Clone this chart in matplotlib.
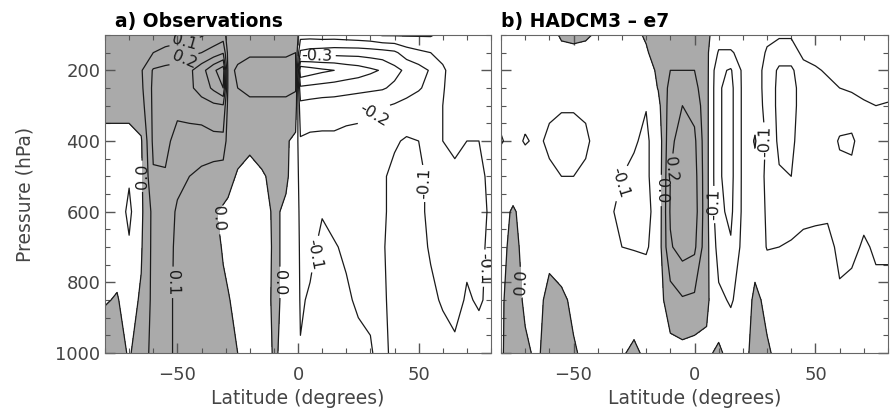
import matplotlib.pyplot as plt
import numpy as np
from matplotlib.ticker import MultipleLocator

pressure = [100, 150, 200, 250, 300, 400, 500, 600, 700, 850, 1000]

# a) observations: one row per latitude, values at each pressure level
lat_obs = [-80, -75, -70, -65, -60, -55, -50, -45, -40, -35, -31, -29, -25,
           -20, -15, -10, -5, -1, 1, 5, 10, 15, 20, 25, 30, 35, 40, 45, 50,
           55, 60, 65, 70, 75, 80]
obs = [
    [0.05, 0.05, 0.05, 0.04, 0.02, -0.02, -0.03, -0.03, -0.02, -0.005, 0.04],
    [0.06, 0.06, 0.06, 0.05, 0.03, -0.03, -0.05, -0.05, -0.03, 0.005, 0.04],
    [0.06, 0.07, 0.07, 0.06, 0.02, -0.02, -0.09, -0.12, -0.09, -0.03, -0.01],
    [0.07, 0.08, 0.09, 0.08, 0.06, -0.01, -0.02, -0.02, -0.01, 0.01, 0.05],
    [0.07, 0.10, 0.21, 0.22, 0.22, 0.22, 0.19, 0.13, 0.13, 0.13, 0.13],
    [0.06, 0.12, 0.23, 0.24, 0.24, 0.23, 0.19, 0.14, 0.14, 0.13, 0.13],
    [0.06, 0.14, 0.24, 0.25, 0.23, 0.16, 0.12, 0.09, 0.08, 0.08, 0.08],
    [0.06, 0.18, 0.28, 0.28, 0.24, 0.16, 0.10, 0.07, 0.06, 0.06, 0.06],
    [0.09, 0.20, 0.36, 0.34, 0.26, 0.15, 0.08, 0.05, 0.05, 0.05, 0.05],
    [0.13, 0.24, 0.48, 0.42, 0.28, 0.17, 0.05, 0.005, 0.02, 0.04, 0.05],
    [0.15, 0.29, 0.56, 0.50, 0.29, 0.17, 0.04, -0.01, -0.005, 0.01, 0.03],
    [0.05, 0.07, 0.08, 0.08, 0.07, 0.05, 0.03, -0.02, -0.02, 0.005, 0.02],
    [0.05, 0.08, 0.11, 0.10, 0.07, 0.04, -0.01, -0.03, -0.03, -0.02, 0.0],
    [0.06, 0.09, 0.13, 0.12, 0.08, 0.02, -0.03, -0.05, -0.05, -0.04, -0.03],
    [0.06, 0.09, 0.13, 0.12, 0.08, 0.04, -0.01, -0.03, -0.04, -0.03, -0.03],
    [0.06, 0.09, 0.13, 0.12, 0.08, 0.05, 0.02, 0.01, 0.01, 0.01, 0.005],
    [0.06, 0.09, 0.13, 0.12, 0.08, 0.01, 0.01, -0.01, -0.01, -0.01, -0.01],
    [0.07, 0.10, 0.12, 0.11, 0.06, -0.02, -0.03, -0.03, -0.03, -0.03, -0.02],
    [-0.06, -0.22, -0.58, -0.38, -0.27, -0.19, -0.15, -0.13, -0.12, -0.11, -0.095],
    [-0.06, -0.24, -0.55, -0.37, -0.26, -0.18, -0.15, -0.13, -0.12, -0.09, -0.06],
    [-0.05, -0.25, -0.52, -0.36, -0.25, -0.18, -0.14, -0.105, -0.08, -0.06, -0.05],
    [-0.05, -0.26, -0.50, -0.35, -0.25, -0.18, -0.14, -0.12, -0.095, -0.07, -0.06],
    [-0.04, -0.26, -0.47, -0.34, -0.24, -0.17, -0.14, -0.12, -0.11, -0.09, -0.07],
    [-0.03, -0.26, -0.45, -0.33, -0.23, -0.17, -0.13, -0.12, -0.11, -0.11, -0.08],
    [-0.02, -0.25, -0.42, -0.32, -0.22, -0.16, -0.13, -0.12, -0.11, -0.11, -0.095],
    [0.01, -0.24, -0.39, -0.31, -0.21, -0.11, -0.11, -0.11, -0.105, -0.11, -0.12],
    [0.01, -0.22, -0.33, -0.28, -0.19, -0.11, -0.08, -0.08, -0.08, -0.08, -0.08],
    [0.01, -0.15, -0.28, -0.24, -0.17, -0.09, -0.07, -0.07, -0.07, -0.07, -0.07],
    [0.01, -0.12, -0.24, -0.21, -0.15, -0.10, -0.09, -0.09, -0.085, -0.07, -0.06],
    [0.01, -0.10, -0.19, -0.17, -0.13, -0.10, -0.11, -0.11, -0.105, -0.09, -0.07],
    [-0.03, -0.08, -0.11, -0.105, -0.10, -0.10, -0.12, -0.12, -0.12, -0.105, -0.08],
    [-0.05, -0.07, -0.07, -0.07, -0.08, -0.09, -0.11, -0.12, -0.13, -0.115, -0.09],
    [-0.04, -0.06, -0.06, -0.06, -0.07, -0.10, -0.11, -0.12, -0.11, -0.095, -0.08],
    [-0.04, -0.05, -0.05, -0.06, -0.07, -0.10, -0.11, -0.12, -0.11, -0.105, -0.08],
    [-0.04, -0.05, -0.05, -0.05, -0.06, -0.08, -0.09, -0.09, -0.09, -0.09, -0.07],
]

# b) HADCM3 - e7
lat_model = [-80, -75, -70, -65, -60, -55, -50, -45, -40, -35, -30, -25, -20,
             -15, -10, -5, 0, 5, 10, 15, 20, 25, 30, 35, 40, 45, 50, 55, 60,
             65, 70, 75, 80]
model = [
    [-0.04, -0.05, -0.06, -0.07, -0.08, -0.105, -0.06, -0.03, -0.02, -0.01, -0.01],
    [-0.03, -0.04, -0.05, -0.06, -0.07, -0.08, -0.05, 0.01, 0.02, 0.03, 0.04],
    [-0.03, -0.04, -0.05, -0.06, -0.08, -0.105, -0.06, -0.03, -0.02, -0.01, 0.01],
    [-0.03, -0.04, -0.05, -0.06, -0.07, -0.09, -0.06, -0.04, -0.03, -0.02, -0.01],
    [-0.03, -0.04, -0.05, -0.07, -0.09, -0.11, -0.09, -0.05, -0.02, 0.02, 0.03],
    [0.01, -0.02, -0.05, -0.07, -0.095, -0.12, -0.10, -0.06, -0.03, 0.01, 0.03],
    [0.02, -0.02, -0.05, -0.07, -0.095, -0.12, -0.10, -0.06, -0.04, -0.01, 0.005],
    [0.01, -0.02, -0.05, -0.07, -0.09, -0.11, -0.09, -0.06, -0.04, -0.02, -0.01],
    [-0.01, -0.03, -0.05, -0.06, -0.07, -0.08, -0.08, -0.07, -0.05, -0.03, -0.02],
    [-0.02, -0.03, -0.05, -0.06, -0.07, -0.08, -0.09, -0.095, -0.07, -0.04, -0.02],
    [-0.02, -0.03, -0.05, -0.06, -0.08, -0.09, -0.10, -0.11, -0.10, -0.03, -0.005],
    [-0.02, -0.03, -0.05, -0.07, -0.09, -0.095, -0.11, -0.11, -0.105, -0.03, 0.01],
    [0.01, -0.01, -0.05, -0.07, -0.098, -0.11, -0.11, -0.12, -0.11, -0.04, -0.01],
    [0.05, 0.04, 0.02, 0.005, -0.03, -0.07, -0.07, -0.07, -0.06, -0.04, -0.03],
    [0.06, 0.08, 0.10, 0.13, 0.15, 0.18, 0.20, 0.21, 0.19, 0.05, -0.03],
    [0.07, 0.09, 0.10, 0.14, 0.20, 0.24, 0.26, 0.27, 0.24, 0.09, -0.03],
    [0.06, 0.08, 0.10, 0.13, 0.17, 0.22, 0.24, 0.25, 0.22, 0.08, -0.04],
    [0.02, 0.02, 0.03, 0.03, 0.03, 0.03, 0.03, 0.03, 0.03, 0.02, -0.02],
    [-0.05, -0.11, -0.18, -0.19, -0.19, -0.19, -0.19, -0.18, -0.14, -0.08, 0.02],
    [-0.05, -0.11, -0.21, -0.23, -0.23, -0.23, -0.23, -0.22, -0.19, -0.11, -0.04],
    [-0.05, -0.07, -0.08, -0.08, -0.08, -0.08, -0.08, -0.08, -0.07, -0.06, -0.04],
    [-0.04, -0.05, -0.06, -0.06, -0.05, 0.01, -0.04, -0.05, -0.04, 0.02, 0.04],
    [-0.08, -0.11, -0.13, -0.13, -0.13, -0.12, -0.12, -0.11, -0.105, -0.02, 0.01],
    [-0.09, -0.14, -0.22, -0.23, -0.23, -0.22, -0.19, -0.14, -0.10, -0.05, -0.02],
    [-0.09, -0.14, -0.22, -0.23, -0.23, -0.22, -0.20, -0.14, -0.09, -0.05, -0.02],
    [-0.05, -0.08, -0.13, -0.16, -0.16, -0.15, -0.14, -0.12, -0.08, -0.05, -0.03],
    [-0.04, -0.07, -0.11, -0.14, -0.14, -0.14, -0.13, -0.12, -0.07, -0.05, -0.03],
    [-0.04, -0.06, -0.09, -0.12, -0.14, -0.15, -0.14, -0.12, -0.06, -0.04, -0.03],
    [-0.04, -0.05, -0.07, -0.10, -0.14, -0.21, -0.17, -0.14, -0.13, -0.08, -0.04],
    [-0.04, -0.05, -0.06, -0.09, -0.13, -0.22, -0.17, -0.14, -0.12, -0.07, -0.04],
    [-0.04, -0.05, -0.06, -0.08, -0.11, -0.14, -0.14, -0.12, -0.09, -0.06, -0.04],
    [-0.04, -0.05, -0.06, -0.08, -0.10, -0.13, -0.14, -0.13, -0.11, -0.08, -0.04],
    [-0.04, -0.05, -0.06, -0.08, -0.105, -0.13, -0.14, -0.13, -0.11, -0.08, -0.04],
]

levels = [-0.5, -0.4, -0.3, -0.2, -0.1, 0.0, 0.1, 0.2, 0.3, 0.4, 0.5]

# where the contour labels sit (lat, hPa)
obs_labels = [(-47, 118), (-47, 172), (8, 168), (32, 330), (-65, 500),
              (-33, 620), (-52, 800), (-8, 800), (7, 720), (57, 520), (78, 760)]
model_labels = [(-71, 800), (-30, 520), (-14, 540), (-9, 480), (7, 580), (29, 400)]


def fmt(v):
    s = "%.1f" % v
    return "0.0" if s == "-0.0" else s


def draw_panel(ax, lat, field, title, title_x, label_pos):
    z = np.array(field).T
    ax.contourf(lat, pressure, z, levels=[0, 1], colors=['#aaaaaa'])
    cs = ax.contour(lat, pressure, z, levels=levels, colors='#1a1a1a',
                    linewidths=0.9, linestyles='solid')
    ax.clabel(cs, fmt=fmt, fontsize=11.5, manual=label_pos, inline=True, inline_spacing=3)
    ax.set_xlim(-80, 80)
    ax.set_ylim(1000, 100)
    ax.set_xticks([-50, 0, 50])
    ax.set_yticks([200, 400, 600, 800, 1000])
    ax.xaxis.set_minor_locator(MultipleLocator(10))
    ax.yaxis.set_minor_locator(MultipleLocator(50))
    ax.tick_params(which='both', direction='in', top=True, right=True,
                   color='#555555', labelsize=13, labelcolor='#444444')
    ax.tick_params(which='major', length=7, width=1)
    ax.tick_params(which='minor', length=3.5, width=0.8)
    ax.tick_params(axis='x', pad=9)
    for sp in ax.spines.values():
        sp.set_color('#666666')
    ax.set_xlabel('Latitude (degrees)', fontsize=13.5, color='#444444', labelpad=4)
    ax.text(title_x, 1.012, title, transform=ax.transAxes, fontsize=13.5,
            fontweight='bold', va='bottom', ha='left')


fig = plt.figure(figsize=(8.93, 4.16), dpi=100)
ax1 = fig.add_axes([105 / 893, 1 - 353 / 416, 386 / 893, 318 / 416])
ax2 = fig.add_axes([501 / 893, 1 - 353 / 416, 387 / 893, 318 / 416])

draw_panel(ax1, lat_obs, obs, 'a) Observations', 0.026, obs_labels)
draw_panel(ax2, lat_model, model, 'b) HADCM3 \u2013 e7', 0.0, model_labels)

ax1.set_ylabel('Pressure (hPa)', fontsize=13.5, color='#444444', labelpad=15)
ax2.set_yticklabels([])

fig.savefig('out.png', dpi=100)
